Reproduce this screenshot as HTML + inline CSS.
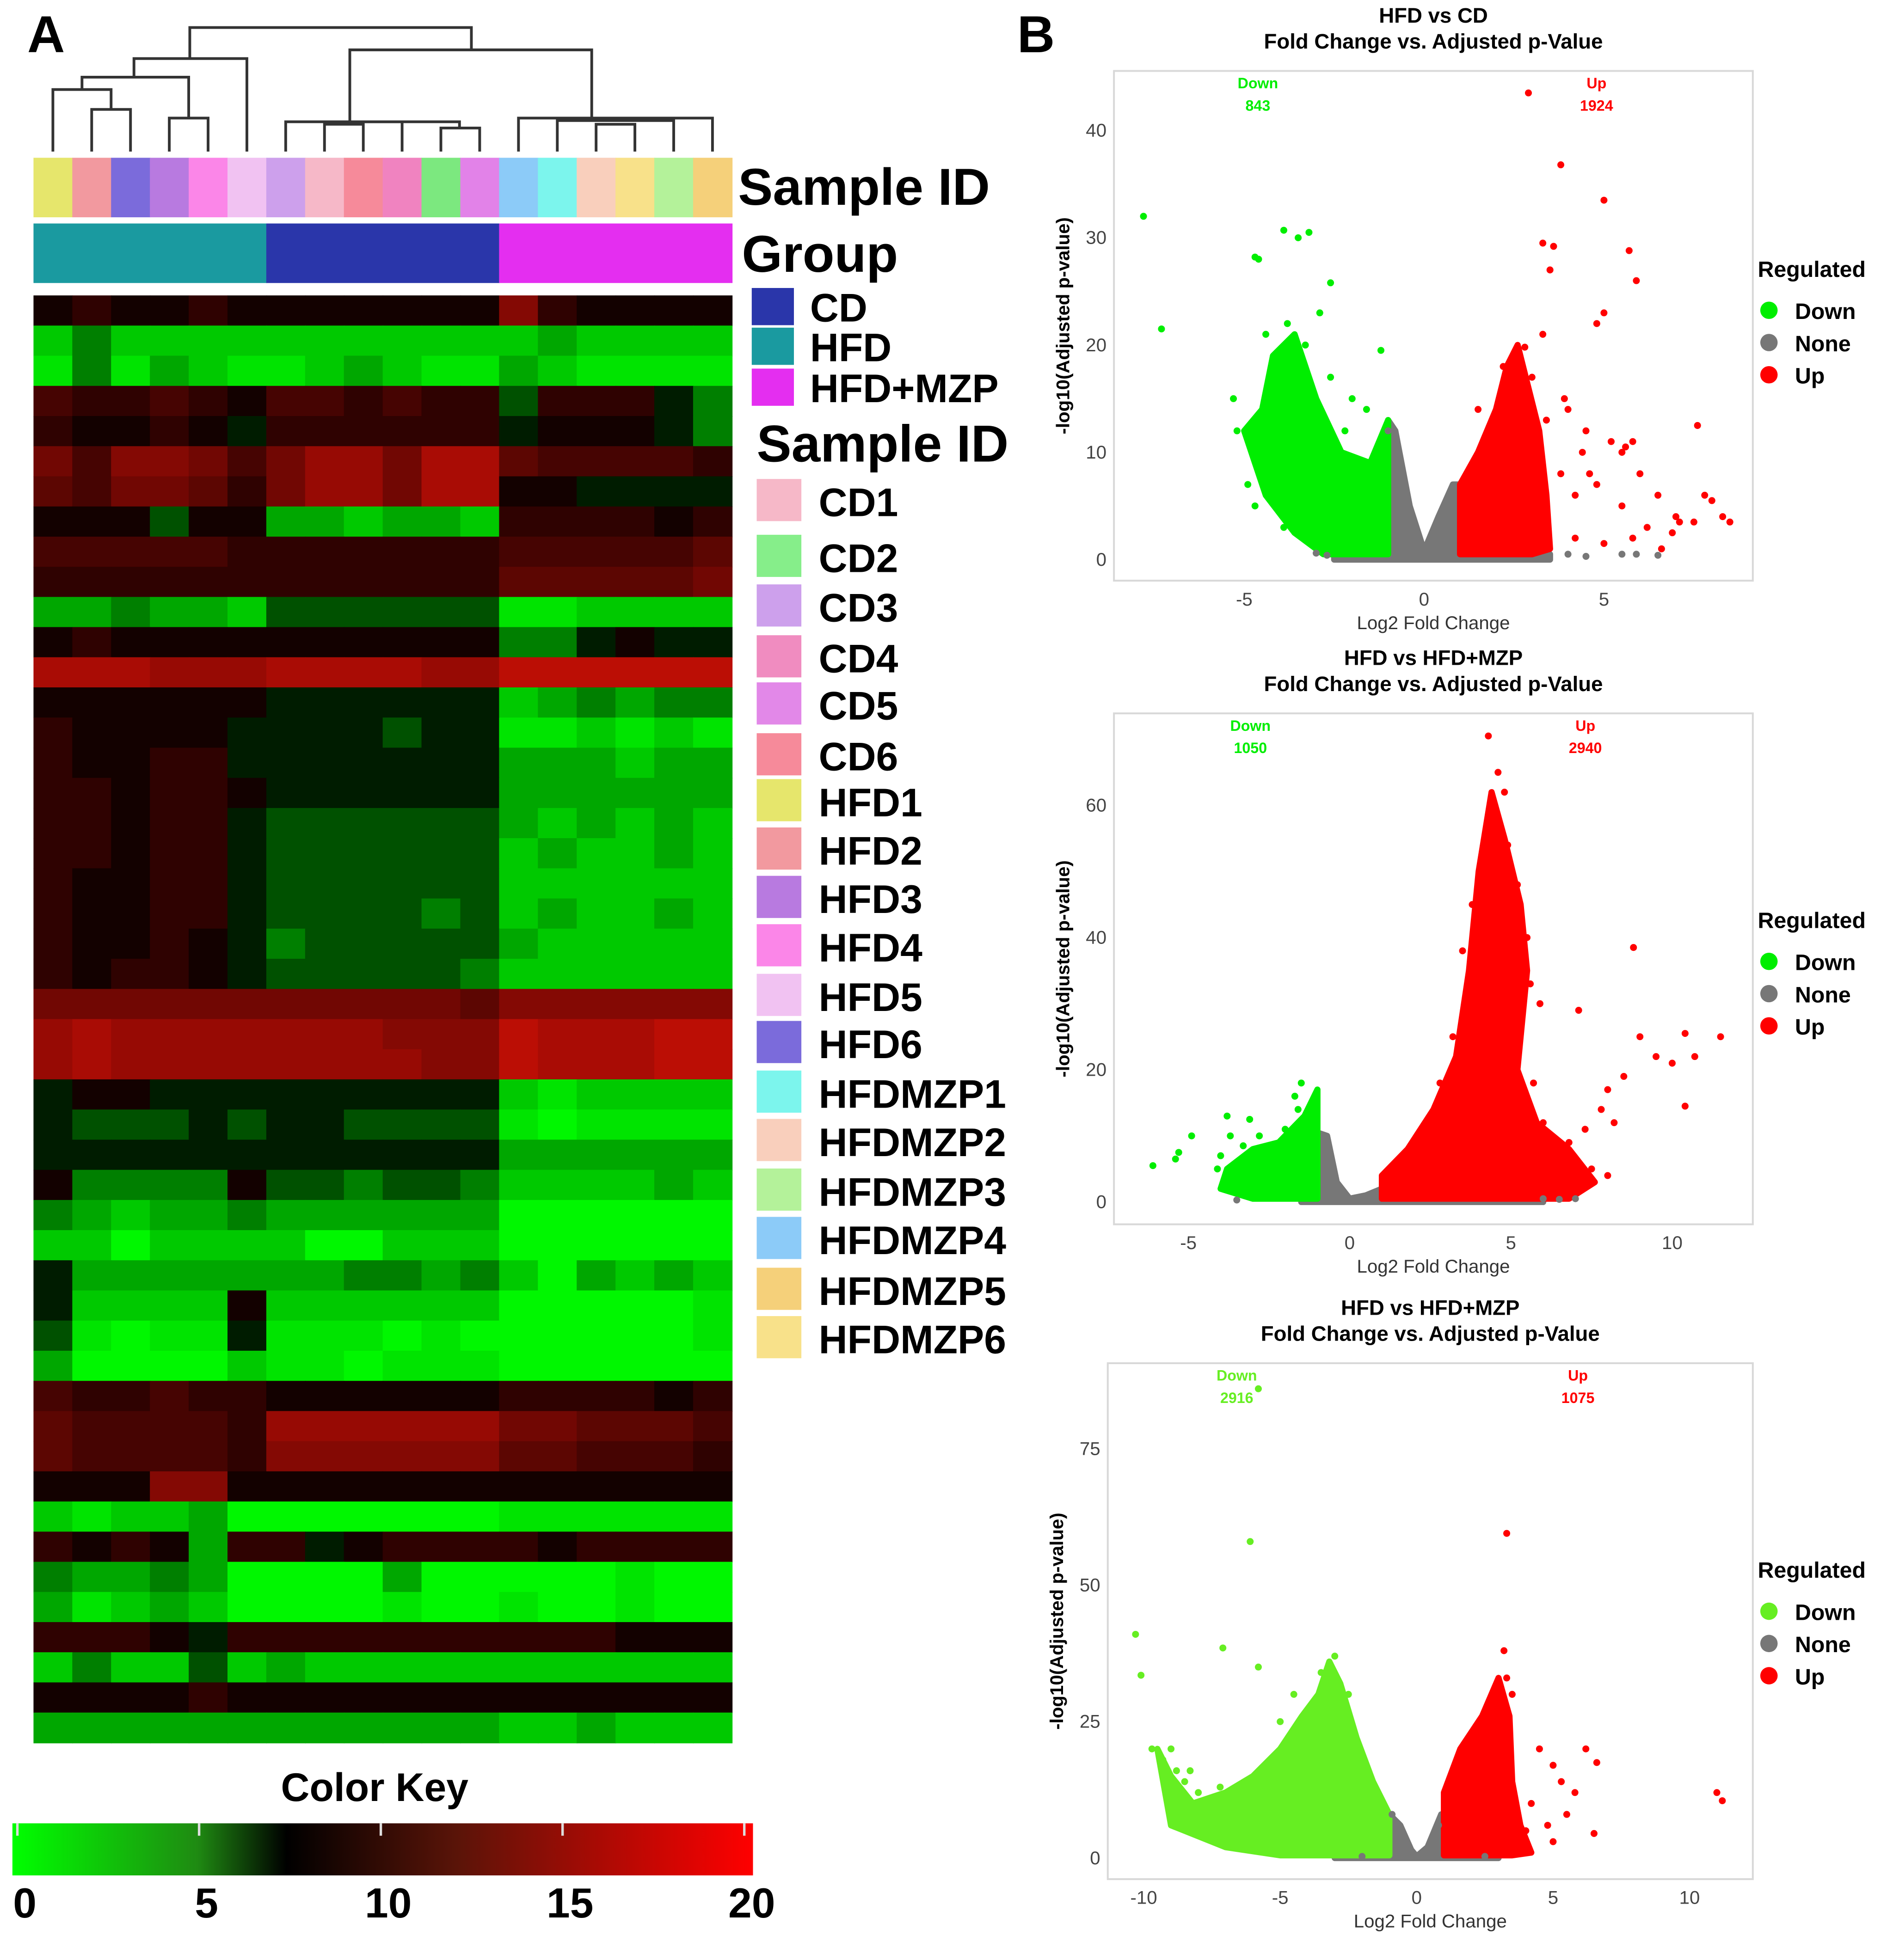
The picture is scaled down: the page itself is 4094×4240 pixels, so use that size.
<!DOCTYPE html>
<html><head><meta charset="utf-8"><style>
html,body{margin:0;padding:0;background:#fff}
svg{display:block}
text{font-family:"Liberation Sans",sans-serif}
</style></head><body>
<svg id="fig" xmlns="http://www.w3.org/2000/svg" width="4094" height="4240" viewBox="0 0 1526 1580">
<rect width="1526" height="1580" fill="#fff"/>
<text x="22" y="42" font-size="42" font-weight="bold">A</text>
<text x="820" y="42" font-size="42" font-weight="bold">B</text>
<g id="dendro" stroke="#333" stroke-width="2.2" fill="none"></g>
<g id="samplebar"></g>
<g id="groupbar"></g>
<g id="heat"></g>
<text x="595" y="165" font-size="42" font-weight="bold">Sample ID</text>
<text x="598" y="219" font-size="42" font-weight="bold">Group</text>
<g id="grpleg"></g>
<text x="610" y="372" font-size="42" font-weight="bold">Sample ID</text>
<g id="smpleg"></g>
<text x="302" y="1452" font-size="32" font-weight="bold" text-anchor="middle">Color Key</text>
<defs><linearGradient id="ck" x1="0" x2="1" y1="0" y2="0">
<stop offset="0" stop-color="#00ff00"/><stop offset="0.25" stop-color="#1f8a12"/><stop offset="0.37" stop-color="#000"/><stop offset="0.6" stop-color="#5a1408"/><stop offset="1" stop-color="#ff0000"/></linearGradient></defs>
<rect x="10" y="1470" width="597" height="42" fill="url(#ck)"/>
<g id="ckticks"></g>
<g id="v1"></g>
<g id="v2"></g>
<g id="v3"></g>
</svg>
<script>
const NS="http://www.w3.org/2000/svg";
function mk(tag,attrs,parent,text){const e=document.createElementNS(NS,tag);for(const k in attrs)e.setAttribute(k,attrs[k]);if(text!==undefined)e.textContent=text;parent.appendChild(e);return e;}

// ---- heatmap data ----
const sampleColors=["#e6e66c","#f2999f","#7b6bdb","#b87ae0","#fb86e8","#f1c2f2","#cda0ec","#f6b8c8","#f68a9a","#f083c0","#7ce87f","#e282e8","#8ccbf8","#7cf5ed","#f9cfbc","#f8e18a","#b4f29a","#f5d07a"];
const groupNames=["HFD","CD","HFD+MZP"];
const groupColors=["#1a9aa0","#2a36aa","#e42ef0"];
const heatRows=[
[8,9,8,8,9,8,8,8,8,8,8,8,13,9,8,8,8,8],
[3,5,3,3,3,3,3,3,3,3,3,3,3,4,3,3,3,3],
[2,5,2,4,3,2,2,3,4,3,2,2,4,3,2,2,2,2],
[10,9,9,10,9,8,10,10,9,10,9,9,6,9,9,9,7,5],
[9,8,8,9,8,7,9,9,9,9,9,9,7,8,8,8,7,5],
[12,10,13,13,12,10,12,14,14,12,15,15,11,10,10,10,10,9],
[11,10,12,12,11,9,12,14,14,12,15,15,8,8,7,7,7,7],
[8,8,8,6,8,8,4,4,3,4,4,3,9,9,9,9,8,9],
[10,10,10,10,10,9,9,9,9,9,9,9,10,10,10,10,10,11],
[9,9,9,9,9,9,9,9,9,9,9,9,11,11,11,11,11,12],
[4,4,5,4,4,3,6,6,6,6,6,6,2,2,3,3,3,3],
[8,9,8,8,8,8,8,8,8,8,8,8,5,5,7,8,7,7],
[15,15,15,14,14,14,15,15,15,15,14,14,16,16,16,16,16,16],
[8,8,8,8,8,8,7,7,7,7,7,7,3,4,5,4,5,5],
[9,8,8,8,8,7,7,7,7,6,7,7,2,2,3,2,3,2],
[9,8,8,9,9,7,7,7,7,7,7,7,4,4,4,3,4,4],
[9,9,8,9,9,8,7,7,7,7,7,7,4,4,4,4,4,4],
[9,9,8,9,9,7,6,6,6,6,6,6,4,3,4,3,4,3],
[9,9,8,9,9,7,6,6,6,6,6,6,3,4,3,3,4,3],
[9,8,8,9,9,7,6,6,6,6,6,6,3,3,3,3,3,3],
[9,8,8,9,9,7,6,6,6,6,5,6,3,4,3,3,4,3],
[9,8,8,9,8,7,5,6,6,6,6,6,4,3,3,3,3,3],
[9,8,9,9,8,7,6,6,6,6,6,5,3,3,3,3,3,3],
[12,12,12,12,12,12,12,12,12,12,12,11,13,13,13,13,13,13],
[14,15,14,14,14,14,14,14,14,13,13,13,16,15,15,15,16,16],
[14,15,14,14,14,14,14,14,14,14,13,13,16,15,15,15,16,16],
[7,8,8,7,7,7,7,7,7,7,7,7,3,2,3,3,3,3],
[7,6,6,6,7,6,7,7,6,6,6,6,2,1,2,2,2,2],
[7,7,7,7,7,7,7,7,7,7,7,7,4,4,4,4,4,4],
[8,5,5,5,5,8,6,6,5,6,6,5,3,3,3,3,4,3],
[5,4,3,4,4,5,4,4,4,4,4,4,1,1,1,1,1,1],
[3,3,1,3,3,3,3,1,1,3,3,3,1,1,1,1,1,1],
[7,4,4,4,4,4,4,4,5,5,4,5,3,1,4,3,4,3],
[7,3,3,3,3,8,3,3,3,3,3,3,1,1,1,1,1,2],
[6,2,1,2,2,7,2,2,2,1,2,1,1,1,1,1,1,2],
[4,1,1,1,1,3,2,2,1,2,2,2,1,1,1,1,1,1],
[10,9,9,10,9,9,8,8,8,8,8,8,9,9,9,9,8,9],
[11,10,10,10,10,9,14,14,14,14,14,14,12,12,11,11,11,10],
[11,10,10,10,10,9,13,13,13,13,13,13,11,11,10,10,10,9],
[8,8,8,13,13,8,8,8,8,8,8,8,8,8,8,8,8,8],
[3,2,3,3,4,1,1,1,1,1,1,1,2,2,2,2,2,2],
[9,8,9,8,4,9,9,7,8,9,9,9,9,8,9,9,9,9],
[5,4,4,5,4,1,1,1,1,4,1,1,1,1,1,2,1,1],
[4,2,3,4,3,1,1,1,1,2,1,1,2,1,1,2,1,1],
[9,9,9,8,7,9,9,9,9,9,9,9,9,9,9,8,8,8],
[3,5,3,3,6,3,4,3,3,3,3,3,3,3,3,3,3,3],
[8,8,8,8,9,8,8,8,8,8,8,8,8,8,8,8,8,8],
[4,4,4,4,4,4,4,4,4,4,4,4,3,3,4,3,3,3]
];
const sampleLegendNames=["CD1","CD2","CD3","CD4","CD5","CD6","HFD1","HFD2","HFD3","HFD4","HFD5","HFD6","HFDMZP1","HFDMZP2","HFDMZP3","HFDMZP4","HFDMZP5","HFDMZP6"];
const sampleLegendColors=["#f6b8c8","#86ee8a","#cda0ec","#f08cc0","#e288e8","#f68a9a","#e6e66c","#f2999f","#b87ae0","#fb86e8","#f1c2f2","#7b6bdb","#7cf5ed","#f9cfbc","#b4f29a","#8ccbf8","#f5d07a","#f8e18a"];
const colorKeyTicks=[0,5,10,15,20];

const HX0=27,HX1=590,HY0=238,HY1=1405;
const ncol=18,cw=(HX1-HX0)/ncol;
function heatColor(v){
  const mid=7.5;
  if(v<=mid){const t=v/mid;const g=Math.round(255*(1-Math.pow(t,1.7)));return `rgb(0,${Math.max(0,Math.min(255,g))},0)`;}
  const t=(v-mid)/(20-mid);return `rgb(${Math.round(255*Math.pow(t,0.8))},${Math.round(20*t)},${Math.round(8*t)})`;
}
const sb=document.getElementById('samplebar');
sampleColors.forEach((c,i)=>{const r=mk('rect',{x:HX0+i*cw,y:127,width:cw+0.5,height:48,fill:c},sb);

});
const gb=document.getElementById('groupbar');
groupColors.forEach((c,i)=>{const r=mk('rect',{x:HX0+i*6*cw,y:180,width:6*cw+0.5,height:48,fill:c},gb);

});
const hg=document.getElementById('heat');
const rh=(HY1-HY0)/heatRows.length;
heatRows.forEach((row,ri)=>row.forEach((v,ci)=>{
  const r=mk('rect',{x:HX0+ci*cw,y:HY0+ri*rh,width:cw+0.5,height:rh+0.5,fill:heatColor(v)},hg);
  
  
}));
const dg=document.getElementById('dendro');
function cx(i){return HX0+cw*(i+0.5);}
const links=[
[cx(1),cx(2),88,122,122],[cx(0),(cx(1)+cx(2))/2,72,122,88],
[cx(3),cx(4),95,122,122],[(cx(0)+(cx(1)+cx(2))/2)/2,(cx(3)+cx(4))/2,62,72,95],
[108,cx(5),47,62,122],
[cx(7),cx(8),100,122,122],[cx(6),cx(9),98,122,122],[cx(10),cx(11),103,122,122],[cx(6)+40,cx(10)+15,98,98,103],
[cx(14),cx(15),100,122,122],[cx(13),cx(16),97,122,122],[cx(12),cx(17),95,122,122],
[282,477,40,98,95],[153,380,22,47,40]];
links.forEach(l=>{const p=mk('path',{d:`M${l[0]},${l[3]}V${l[2]}H${l[1]}V${l[4]}`},dg);

});
const gl=document.getElementById('grpleg');
[["CD","#2a36aa",232],["HFD","#1a9aa0",264],["HFD+MZP","#e42ef0",297]].forEach(d=>{
  const r=mk('rect',{x:606,y:d[2],width:34,height:30,fill:d[1]},gl);
  
  
  const t=mk('text',{x:653,y:d[2]+27,'font-size':32,'font-weight':'bold'},gl,d[0]);
  
  
});
const sl=document.getElementById('smpleg');
const sly=[405,450,490,531,569,610,647,686,725,764,804,842,882,921,961,1000,1041,1080];
sampleLegendNames.forEach((n,i)=>{
  const r=mk('rect',{x:610,y:sly[i]-19,width:36,height:34,fill:sampleLegendColors[i]},sl);
  
  
  const t=mk('text',{x:660,y:sly[i]+11,'font-size':32,'font-weight':'bold'},sl,n);
  
  
});
const ck=document.getElementById('ckticks');
colorKeyTicks.forEach(v=>{
  const x=14+(v/20)*586;
  const l=mk('line',{x1:x,x2:x,y1:1470,y2:1480,stroke:'#ddd','stroke-width':2},ck);
  
  
  const t=mk('text',{x:x+6,y:1546,'font-size':34,'font-weight':'bold','text-anchor':'middle'},ck,String(v));
  
  
});

// ---- volcano data ----
const v1Down=[[-7.8,32],[-7.3,21.5],[-4.7,28.2],[-4.6,28],[-3.9,30.7],[-3.5,30],[-3.2,30.5],[-2.6,25.8],[-2.9,23],[-1.2,19.5],[-5.3,15],[-5.2,12],[-4.5,9.5],[-4.2,18],[-4.4,21],[-3.8,22],[-3.3,20],[-2.6,17],[-2.2,12],[-1.6,14],[-2,15],[-3.2,14],[-3.6,12],[-1.5,6],[-4.8,10.5],[-4,6],[-3.3,2],[-2.8,3],[-1.3,10],[-1.8,9],[-4.9,7],[-4.7,5],[-3.9,3],[-2.5,1],[-3.0,1.5],[-4.0,10],[-4.4,13],[-2.3,8],[-1.1,8.5]];
const v1Up=[[2.9,43.5],[3.8,36.8],[5,33.5],[3.3,29.5],[3.6,29.2],[5.7,28.8],[3.5,27],[5.9,26],[5.0,23],[4.8,22],[3.3,21],[2.8,19.8],[4,14],[4.5,12],[5.2,11],[5.5,10],[6,8],[6.5,6],[7,4],[7.5,3.5],[7.8,6],[8.0,5.5],[8.3,4],[8.5,3.5],[7.6,12.5],[4.4,10],[4.8,7],[5.5,5],[6.2,3],[4.2,2],[5,1.5],[6.6,1],[5.8,2],[3.8,8],[4.2,6],[3.9,15],[2.2,18],[1.5,14],[3,17],[5.8,11],[5.6,10.5],[4.6,8],[3.4,13],[7.1,3.5],[6.9,2.5]];
const v1None=[[4,0.5],[4.5,0.3],[5.5,0.5],[6.5,0.4],[5.9,0.5],[-1.0,12],[-2.7,0.4],[-3,0.6]];
const v1DownCore=[[-1,0.5],[-1,13],[-1.5,9],[-2.3,10],[-3,15],[-3.6,21],[-4.2,19],[-4.5,14],[-5,12],[-4.4,6],[-3.6,2.5],[-2.8,0.5]];
const v1UpCore=[[1,0.5],[1,7],[1.5,10],[2,14],[2.3,18],[2.6,20],[2.9,16],[3.2,12],[3.4,6],[3.5,1],[3,0.5]];
const v1NoneCore=[[-1.1,1],[-1,13],[-0.8,12],[-0.4,5],[0,0.8],[0.4,4],[0.8,7],[1,7],[1.2,1],[3.5,0.5],[3.5,0],[-2.5,0],[-2.5,0.8]];

const v2Down=[[-6.1,5.5],[-5.4,6.5],[-5.3,7.5],[-4.9,10],[-4.1,5],[-3.7,10],[-3.8,13],[-3.1,12.5],[-2.8,10],[-1.7,16],[-1.5,18],[-1.6,14],[-2,11],[-2.5,8],[-3,6],[-3.5,3],[-2,3],[-1.3,12],[-4.0,7],[-3.3,8.5],[-2.3,5],[-1.8,8]];
const v2Up=[[8.8,38.5],[7.1,29],[11.5,25],[10.7,22],[10.4,25.5],[9,25],[10,21],[10.4,14.5],[8.5,19],[8,17],[7.8,14],[7.3,11],[6.8,9],[7.5,5],[8,4],[6.5,6],[6,12],[5.7,18],[5.9,30],[4.3,70.5],[4.6,65],[4.8,62],[4.5,58],[4.9,54],[5.2,48],[3.8,45],[3.5,38],[4,30],[5.5,40],[5.6,33],[3.2,25],[2.8,18],[2.5,12],[2,8],[1.5,5],[6.8,3],[7.2,2],[8.2,12],[9.5,22],[4.1,50],[5.3,42]];
const v2None=[[6,0.5],[6.5,0.4],[7,0.5],[-0.8,10],[-3.5,0.3]];
const v2DownCore=[[-1,0.5],[-1,17],[-1.4,13],[-2.2,9],[-3,8],[-3.8,5],[-4,2],[-3,0.5]];
const v2UpCore=[[1,0.5],[1,4],[1.8,8],[2.6,14],[3.3,22],[3.7,35],[4,50],[4.4,62],[4.8,55],[5.3,45],[5.5,35],[5.2,20],[5.8,12],[6.8,8],[7.6,3],[6.8,0.5]];
const v2NoneCore=[[-1.1,1],[-1,10.5],[-0.7,10],[-0.4,3],[0,0.5],[0.5,1],[1,2],[1.2,0.5],[6,0.3],[6,0],[-1.5,0]];

const v3Down=[[-10.3,41],[-10.1,33.5],[-6.1,58],[-5.8,86],[-7.1,38.5],[-5.8,35],[-9.7,20],[-9.3,18],[-8.8,16],[-8.5,14],[-8,12],[-7.5,10],[-7,8],[-6.5,6],[-6,4],[-5.5,2],[-4,1],[-3,37],[-3.5,34],[-2.5,30],[-4.5,30],[-5,25],[-2.2,20],[-1.6,12],[-1.2,5],[-9.0,20],[-8.3,16],[-7.2,13]];
const v3Up=[[3.3,59.5],[3.2,38],[4.5,20],[5,17],[5.3,14],[5.5,8],[6.2,20],[6.6,17.5],[5.8,12],[6.5,4.5],[11,12],[11.2,10.5],[5,3],[4,5],[3.5,30],[3.3,33],[2.5,22],[2,15],[1.5,10],[4.2,10],[4.8,6]];
const v3None=[[-0.9,8],[0.8,6],[-2,0.3],[2.5,0.3]];
const v3DownCore=[[-1,0.5],[-1,8],[-1.6,14],[-2.2,22],[-2.8,32],[-3.2,36],[-3.6,30],[-4.2,26],[-5,20],[-6,15],[-7,12],[-8.2,10],[-9,15],[-9.5,20],[-9,6],[-7,2],[-5,0.5]];
const v3UpCore=[[1,0.5],[1,12],[1.6,20],[2.4,26],[3,33],[3.4,26],[3.5,14],[3.8,6],[4.2,1],[3.5,0.5]];
const v3NoneCore=[[-1.1,0.5],[-1,8],[-0.6,6],[-0.2,1.5],[0,0.3],[0.4,2],[0.9,8],[1.1,0.5],[3,0],[-3,0]];

function volcano(gid,cfg,down,up,none,dCore,uCore,nCore){
  const g=document.getElementById(gid);
  const X=v=>cfg.x0+v*cfg.xs, Y=v=>cfg.y0-v*cfg.ys;
  const bd=mk('rect',{x:cfg.px,y:cfg.py,width:cfg.pw,height:cfg.ph,fill:'none',stroke:'#d8d8d8','stroke-width':1.5},g);
  
  
  const t1=mk('text',{x:cfg.px+cfg.pw/2,y:cfg.py-39,'font-size':17,'font-weight':'bold','text-anchor':'middle'},g,cfg.title);
  
  
  const t2=mk('text',{x:cfg.px+cfg.pw/2,y:cfg.py-18,'font-size':17,'font-weight':'bold','text-anchor':'middle'},g,'Fold Change vs. Adjusted p-Value');
  
  
  const poly=(pts,col,name)=>{const p=mk('polygon',{points:pts.map(q=>X(q[0])+','+Y(q[1])).join(' '),fill:col,stroke:col,'stroke-width':5,'stroke-linejoin':'round'},g);
    
    };
  poly(nCore,'#777','none-cloud');poly(dCore,cfg.green,'down-cloud');poly(uCore,'#ff0000','up-cloud');
  const dots=(pts,col,name)=>pts.forEach(q=>{const c=mk('circle',{cx:X(q[0]),cy:Y(q[1]),r:2.8,fill:col},g);
    
    });
  dots(none,'#777','none-point');dots(down,cfg.green,'down-point');dots(up,'#ff0000','up-point');
  cfg.yt.forEach(v=>{const t=mk('text',{x:cfg.px-6,y:Y(v)+5,'font-size':15,fill:'#444','text-anchor':'end'},g,String(v));
    
    });
  cfg.xt.forEach(v=>{const t=mk('text',{x:X(v),y:cfg.py+cfg.ph+20,'font-size':15,fill:'#444','text-anchor':'middle'},g,String(v));
    
    });
  const xt=mk('text',{x:cfg.px+cfg.pw/2,y:cfg.py+cfg.ph+39,'font-size':15,fill:'#333','text-anchor':'middle'},g,'Log2 Fold Change');
  
  
  const yx=cfg.px-36,yy=cfg.py+cfg.ph/2;
  const yt=mk('text',{x:yx,y:yy,'font-size':15,'font-weight':'bold','text-anchor':'middle',transform:`rotate(-90 ${yx} ${yy})`},g,'-log10(Adjusted p-value)');
  
  
  const a=mk('text',{x:cfg.dx,y:cfg.py+14,'font-size':12,'font-weight':'bold',fill:cfg.green,'text-anchor':'middle'},g,'Down');
  
  
  const a2=mk('text',{x:cfg.dx,y:cfg.py+32,'font-size':12,'font-weight':'bold',fill:cfg.green,'text-anchor':'middle'},g,cfg.dn);
  
  
  const b=mk('text',{x:cfg.ux,y:cfg.py+14,'font-size':12,'font-weight':'bold',fill:'#ff0000','text-anchor':'middle'},g,'Up');
  
  
  const b2=mk('text',{x:cfg.ux,y:cfg.py+32,'font-size':12,'font-weight':'bold',fill:'#ff0000','text-anchor':'middle'},g,cfg.un);
  
  
  const ly=cfg.ly;
  const lt=mk('text',{x:1417,y:ly,'font-size':18,'font-weight':'bold'},g,'Regulated');
  
  
  [['Down',cfg.green],['None','#777'],['Up','#ff0000']].forEach((d,i)=>{
    const c=mk('circle',{cx:1426,cy:ly+27+i*26,r:7,fill:d[1]},g);
    
    
    const t=mk('text',{x:1447,y:ly+34+i*26,'font-size':18,'font-weight':'bold'},g,d[0]);
    
    
  });
}
volcano('v1',{px:898,py:57,pw:515,ph:411,x0:1148,xs:29,y0:451,ys:8.65,yt:[0,10,20,30,40],xt:[-5,0,5],green:'#00ee00',title:'HFD vs CD',dx:1014,ux:1287,dn:'843',un:'1924',ly:223},v1Down,v1Up,v1None,v1DownCore,v1UpCore,v1NoneCore);
volcano('v2',{px:898,py:575,pw:515,ph:412,x0:1088,xs:26,y0:969,ys:5.33,yt:[0,20,40,60],xt:[-5,0,5,10],green:'#00ee00',title:'HFD vs HFD+MZP',dx:1008,ux:1278,dn:'1050',un:'2940',ly:748},v2Down,v2Up,v2None,v2DownCore,v2UpCore,v2NoneCore);
volcano('v3',{px:893,py:1099,pw:520,ph:416,x0:1142,xs:22,y0:1498,ys:4.4,yt:[0,25,50,75],xt:[-10,-5,0,5,10],green:'#66ee22',title:'HFD vs HFD+MZP',dx:997,ux:1272,dn:'2916',un:'1075',ly:1272},v3Down,v3Up,v3None,v3DownCore,v3UpCore,v3NoneCore);
</script>
</body></html>
